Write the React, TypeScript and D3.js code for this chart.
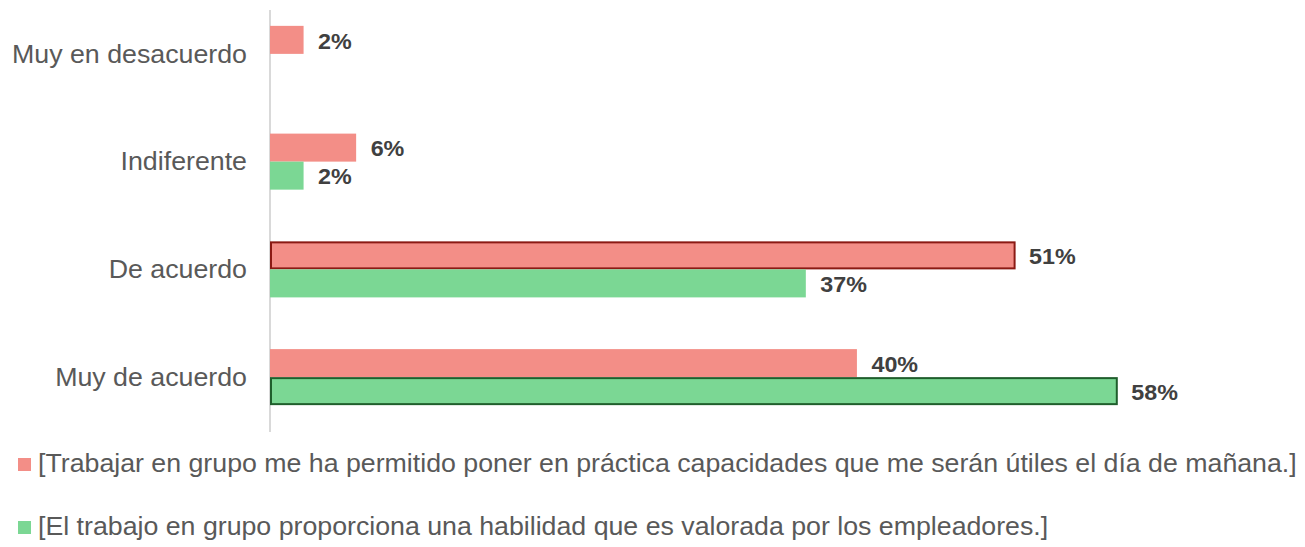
import React from "react";
import * as d3 from "d3";

const categories = ["Muy en desacuerdo", "Indiferente", "De acuerdo", "Muy de acuerdo"];
const seriesNames = [
  "[Trabajar en grupo me ha permitido poner en práctica capacidades que me serán útiles el día de mañana.]",
  "[El trabajo en grupo proporciona una habilidad que es valorada por los empleadores.]",
];
const seriesA = [2.3, 5.9, 51, 40.2];
const seriesB = [0, 2.3, 36.7, 58];
const highlightA = [false, false, true, false];
const highlightB = [false, false, false, true];

const W = 1305;
const H = 547;
const colors = ["#F38E87", "#7BD794"];
const strokes = ["#8B1A14", "#1F5E2C"];

export default function App() {
  const x = d3.scaleLinear().domain([0, 60]).range([270, 270 + 14.6 * 60]);
  const y = d3.scaleBand<string>().domain(categories).range([0, 431]).paddingInner(0.48).paddingOuter(0.24);
  const inner = d3.scaleBand<number>().domain([0, 1]).range([0, y.bandwidth()]);
  const series = [seriesA, seriesB];
  const highlights = [highlightA, highlightB];
  const font = "'Liberation Sans', Arial, sans-serif";

  return (
    <svg width={W} height={H} style={{ position: "absolute", left: 0, top: 0, background: "#fff" }}>
      <line x1={x(0)} x2={x(0)} y1={10} y2={432} stroke="#D9D9D9" strokeWidth={2} />
      {categories.map((c) => (
        <text
          key={c}
          transform={`translate(247, ${(y(c) ?? 0) + y.bandwidth() / 2}) scale(1.05, 1)`}
          textAnchor="end"
          dominantBaseline="central"
          fontFamily={font}
          fontSize={25.5}
          fill="#595959"
        >
          {c}
        </text>
      ))}
      {series.map((vals, si) =>
        vals.map((v, i) => {
          if (v <= 0) return null;
          const y0 = (y(categories[i]) ?? 0) + (inner(si) ?? 0);
          const h = inner.bandwidth();
          const hl = highlights[si][i];
          return (
            <g key={`${si}-${i}`}>
              <rect
                x={x(0) + (hl ? 1 : 0)}
                y={y0 + (hl ? 1 : 0)}
                width={x(v) - x(0) - (hl ? 1 : 0)}
                height={h - (hl ? 2 : 0)}
                fill={colors[si]}
                stroke={hl ? strokes[si] : "none"}
                strokeWidth={hl ? 2 : 0}
              />
              <text
                transform={`translate(${x(v) + 14.5}, ${y0 + h / 2 + 1}) scale(1.06, 1)`}
                dominantBaseline="central"
                fontFamily={font}
                fontSize={22}
                fontWeight="bold"
                fill="#404040"
              >
                {`${Math.round(v)}%`}
              </text>
            </g>
          );
        })
      )}
      {seriesNames.map((n, i) => (
        <g key={n} transform={`translate(0, ${i * 63})`}>
          <rect x={18} y={458} width={13} height={13} fill={colors[i]} />
          <text
            transform="translate(38, 472) scale(1.005, 1)"
            fontFamily={font}
            fontSize={26.6}
            fill="#595959"
          >
            {n}
          </text>
        </g>
      ))}
    </svg>
  );
}
